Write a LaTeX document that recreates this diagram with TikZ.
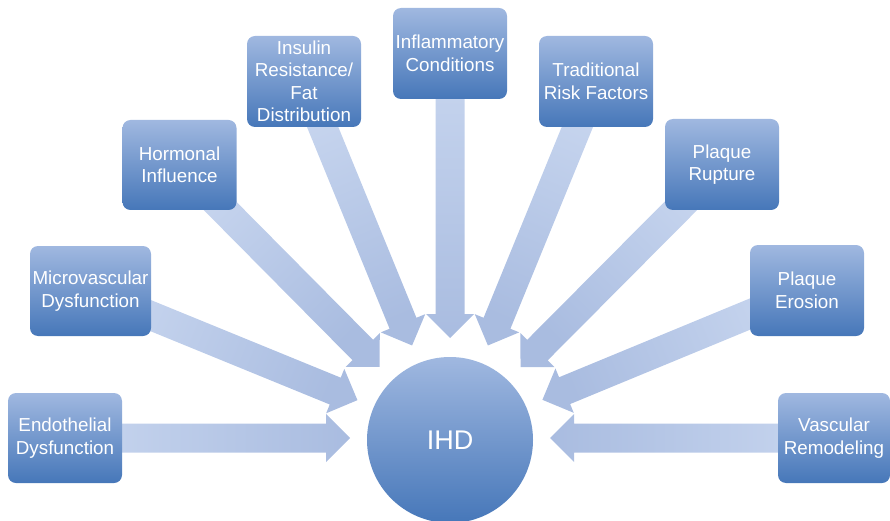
\documentclass[tikz,border=0pt]{standalone}
\usepackage{fontspec}
\setmainfont{Liberation Sans}
\usetikzlibrary{calc}
\pgfdeclarelayer{bg}
\pgfsetlayers{bg,main}
\definecolor{boxTop}{HTML}{A0B8E0}
\definecolor{boxBot}{HTML}{4677B9}
\definecolor{arrLight}{HTML}{C8D6EF}
\definecolor{arrDark}{HTML}{A9BCE0}
\tikzset{
  factor/.style={rectangle, rounded corners=8pt, top color=boxTop, bottom color=boxBot,
    minimum width=114pt, minimum height=90pt, inner sep=0pt, align=center, text=white,
    font=\fontsize{18.8}{22.5}\selectfont},
  hub/.style={circle, minimum size=166pt, inner sep=0pt, top color=boxTop, bottom color=boxBot,
    text=white, font=\fontsize{27}{30}\selectfont},
  arrowshade/.style={top color=arrLight, bottom color=arrDark}
}
% #1 start node, #2 tip coordinate, #3 shading angle
\newcommand\bigblockarrow[3]{%
  \coordinate (#2-h) at ($(#2)!24pt!(#1)$);
  \shade[arrowshade, shading angle=#3]
    ($(#1)!14.5pt!90:(#2)$) -- ($(#2-h)!14.5pt!-90:(#1)$) -- ($(#2-h)!24pt!-90:(#1)$)
    -- (#2) -- ($(#2-h)!24pt!90:(#1)$) -- ($(#2-h)!14.5pt!90:(#1)$)
    -- ($(#1)!14.5pt!-90:(#2)$) -- cycle;
}
\begin{document}
\begin{tikzpicture}[x=1pt,y=1pt]
\useasboundingbox (0,0) rectangle (890,520);
\coordinate (C) at (450,82);
\node[hub] (ihd) at (450,80) {IHD};
\node[factor] (endo) at (65,82) {Endothelial\\Dysfunction};
\node[factor, minimum width=121pt] (micro) at (90.5,229) {Microvascular\\Dysfunction};
\node[factor] (horm) at (179.5,355) {Hormonal\\Influence};
\node[factor, minimum height=91pt] (insu) at (304,438.5) {Insulin\\Resistance/\\Fat\\Distribution};
\node[factor, minimum height=91pt] (infl) at (450,466.5) {Inflammatory\\Conditions};
\node[factor, minimum height=91pt] (trad) at (596,438.5) {Traditional\\Risk Factors};
\node[factor, minimum height=91pt] (rupt) at (722,355.5) {Plaque\\Rupture};
\node[factor, minimum height=91pt] (eros) at (807,229.5) {Plaque\\Erosion};
\node[factor, minimum width=112pt] (remo) at (834,82) {Vascular\\Remodeling};
\foreach \n in {endo,micro,horm,insu,infl,trad,rupt,eros,remo}
  \coordinate (t-\n) at ($(C)!100pt!(\n)$);
\begin{pgfonlayer}{bg}
\bigblockarrow{endo}{t-endo}{90}
\bigblockarrow{micro}{t-micro}{67.8}
\bigblockarrow{horm}{t-horm}{44.7}
\bigblockarrow{insu}{t-insu}{22.3}
\bigblockarrow{infl}{t-infl}{0}
\bigblockarrow{trad}{t-trad}{-22.3}
\bigblockarrow{rupt}{t-rupt}{-44.8}
\bigblockarrow{eros}{t-eros}{-67.6}
\bigblockarrow{remo}{t-remo}{-90}
\end{pgfonlayer}
\end{tikzpicture}
\end{document}
